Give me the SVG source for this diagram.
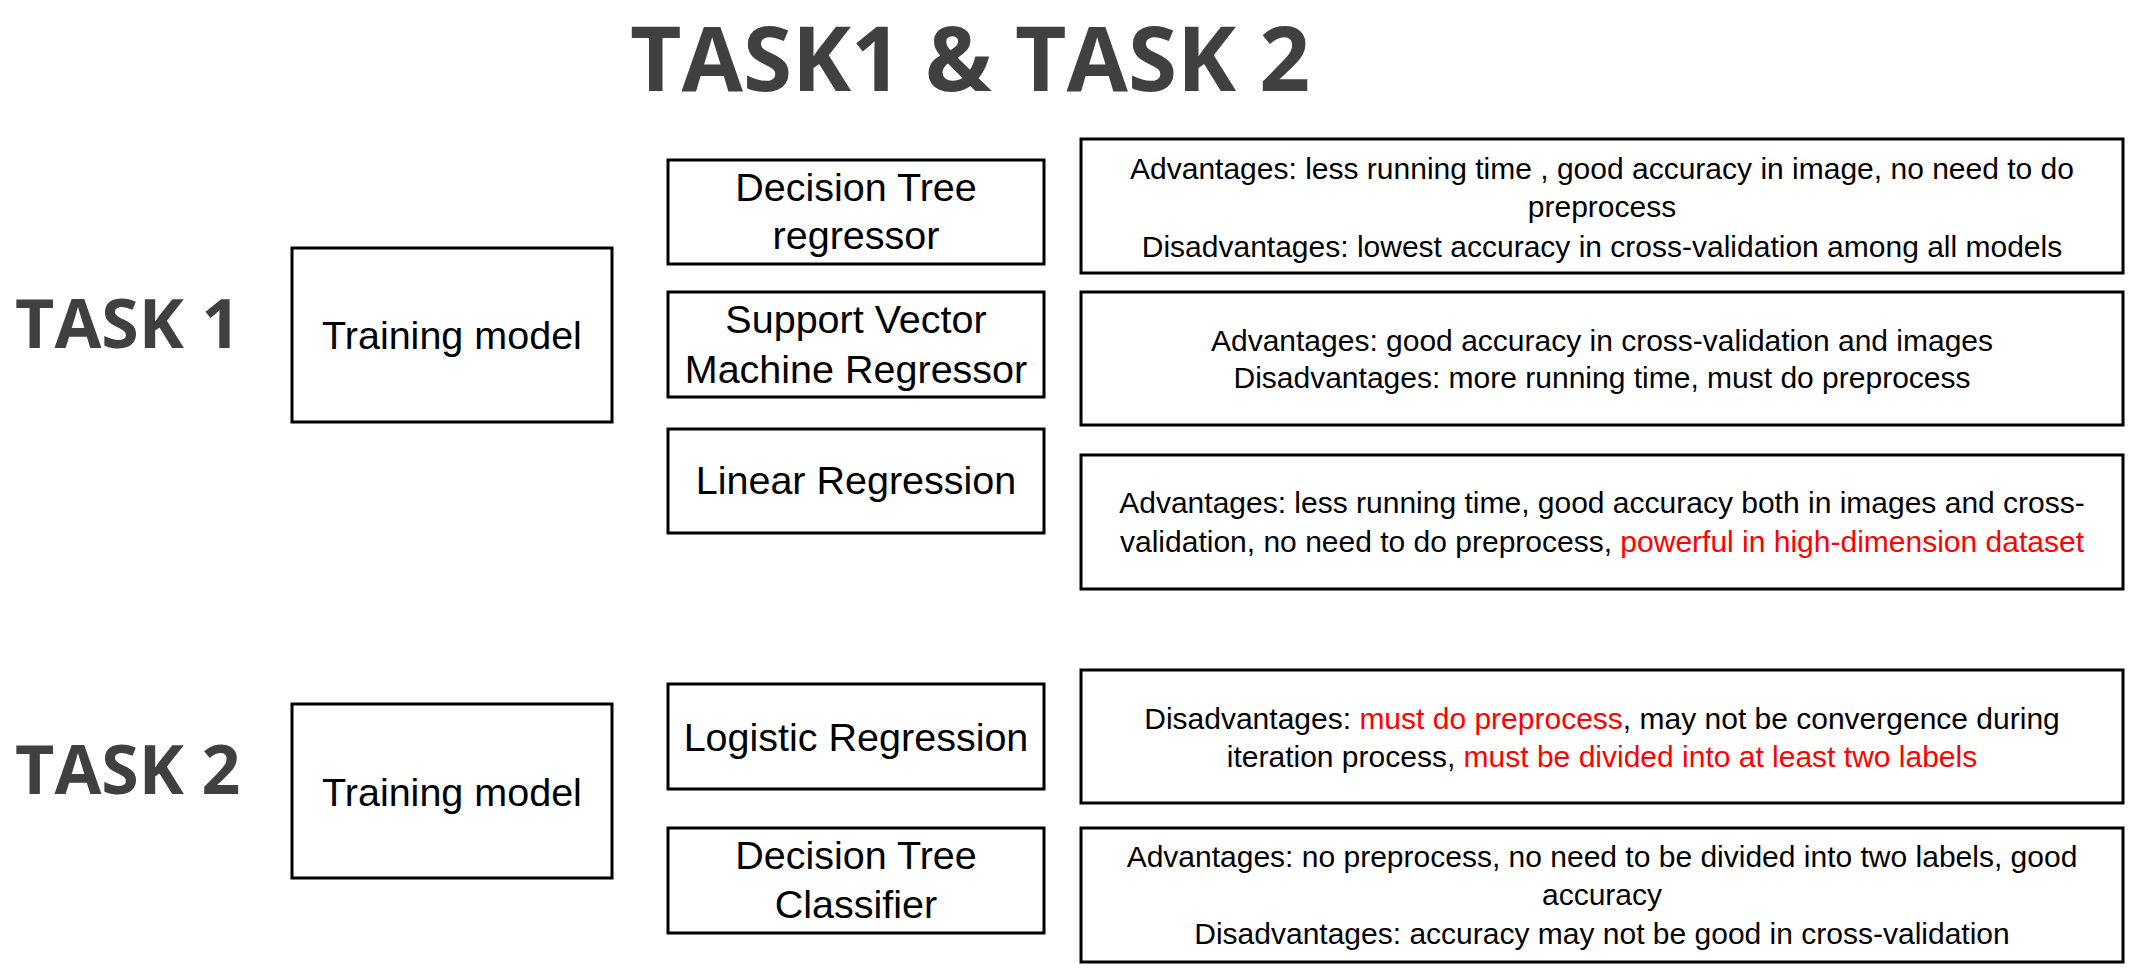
<svg xmlns="http://www.w3.org/2000/svg" width="2131" height="975" viewBox="0 0 2131 975">
  <style>
    .box { fill: #ffffff; stroke: #000000; stroke-width: 3; }
    .head { font-family: "Open Sans", "DejaVu Sans", sans-serif; font-weight: 700; fill: #404040; }
    .lbl { font-family: "Liberation Sans", Arial, sans-serif; font-size: 39.5px; fill: #000000; text-anchor: middle; }
    .note { font-family: "Liberation Sans", Arial, sans-serif; font-size: 30px; fill: #000000; text-anchor: middle; }
    .red { fill: #ff0000; }
  </style>
  <rect width="2131" height="975" fill="#ffffff"/>

  <text class="head" x="630" y="91" font-size="89">TASK1 &amp; TASK 2</text>

  <g id="task1-title"><text class="head" x="15" y="348" font-size="68">TASK 1</text></g>
  <g id="task2-title"><text class="head" x="15" y="794" font-size="68">TASK 2</text></g>

  <g id="training-model-1">
    <rect class="box" x="292" y="248" width="320" height="174"/>
    <text class="lbl" x="452" y="349">Training model</text>
  </g>
  <g id="training-model-2">
    <rect class="box" x="292" y="704" width="320" height="174"/>
    <text class="lbl" x="452" y="806">Training model</text>
  </g>

  <g id="dt-regressor">
    <rect class="box" x="668" y="160" width="376" height="104"/>
    <text class="lbl" x="856" y="201">Decision Tree</text>
    <text class="lbl" x="856" y="249">regressor</text>
  </g>
  <g id="svm-regressor">
    <rect class="box" x="668" y="292" width="376" height="105"/>
    <text class="lbl" x="856" y="333">Support Vector</text>
    <text class="lbl" x="856" y="383">Machine Regressor</text>
  </g>
  <g id="linear-regression">
    <rect class="box" x="668" y="429" width="376" height="104"/>
    <text class="lbl" x="856" y="494">Linear Regression</text>
  </g>
  <g id="logistic-regression">
    <rect class="box" x="668" y="684" width="376" height="105"/>
    <text class="lbl" x="856" y="751">Logistic Regression</text>
  </g>
  <g id="dt-classifier">
    <rect class="box" x="668" y="828" width="376" height="105"/>
    <text class="lbl" x="856" y="869">Decision Tree</text>
    <text class="lbl" x="856" y="918">Classifier</text>
  </g>

  <g id="dt-regressor-notes">
    <rect class="box" x="1081" y="139" width="1042" height="134"/>
    <text class="note" x="1602" y="179">Advantages: less running time , good accuracy in image, no need to do</text>
    <text class="note" x="1602" y="217">preprocess</text>
    <text class="note" x="1602" y="257">Disadvantages: lowest accuracy in cross-validation among all models</text>
  </g>
  <g id="svm-regressor-notes">
    <rect class="box" x="1081" y="292" width="1042" height="133"/>
    <text class="note" x="1602" y="351">Advantages: good accuracy in cross-validation and images</text>
    <text class="note" x="1602" y="388">Disadvantages: more running time, must do preprocess</text>
  </g>
  <g id="linear-regression-notes">
    <rect class="box" x="1081" y="455" width="1042" height="134"/>
    <text class="note" x="1602" y="513">Advantages: less running time, good accuracy both in images and cross-</text>
    <text class="note" x="1602" y="552">validation, no need to do preprocess, <tspan class="red">powerful in high-dimension dataset</tspan></text>
  </g>
  <g id="logistic-regression-notes">
    <rect class="box" x="1081" y="670" width="1042" height="133"/>
    <text class="note" x="1602" y="729">Disadvantages: <tspan class="red">must do preprocess</tspan>, may not be convergence during</text>
    <text class="note" x="1602" y="767">iteration process, <tspan class="red">must be divided into at least two labels</tspan></text>
  </g>
  <g id="dt-classifier-notes">
    <rect class="box" x="1081" y="828" width="1042" height="134"/>
    <text class="note" x="1602" y="867">Advantages: no preprocess, no need to be divided into two labels, good</text>
    <text class="note" x="1602" y="905">accuracy</text>
    <text class="note" x="1602" y="944">Disadvantages: accuracy may not be good in cross-validation</text>
  </g>

  <g id="connectors"></g>
</svg>
